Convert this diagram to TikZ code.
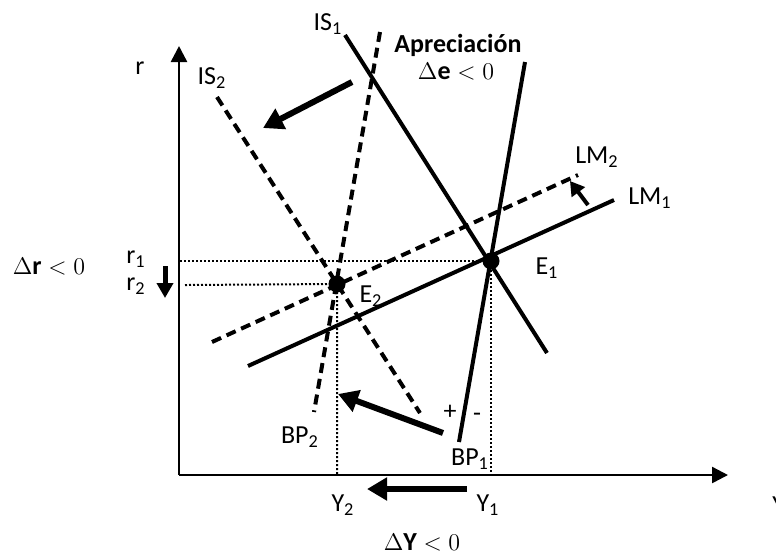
\documentclass[tikz,border=0pt]{standalone}
\usepackage{fontspec}
\setmainfont{Carlito}
\usetikzlibrary{arrows.meta}
\tikzset{%
	curve/.style = { line width=2pt },
	dcurve/.style = { curve, dash pattern=on 5pt off 3pt },
	guide/.style = { line width=1pt, dash pattern=on 1pt off 1pt },
	axis/.style = { line width=1.25pt, -{Triangle[length=8pt,width=8pt]} },
	movearrow/.style = { line width=3pt, -{Triangle[length=10pt,width=11pt]} },
	lbl/.style = { inner sep=0pt, font=\fontsize{13}{15}\selectfont },
	eq/.style = { circle, fill, inner sep=0pt, minimum size=8.5pt }
}
\newcommand{\sub}[1]{\textsubscript{#1}}

\begin{document}
\begin{tikzpicture}[x=0.5pt, y=-0.5pt]
	\useasboundingbox (0,0) rectangle (776,554);

	% ejes
	\coordinate (O) at (179,475);
	\coordinate (rtop) at (179,46);
	\coordinate (Yend) at (728,475);
	\draw[axis] (O) -- (rtop);
	\draw[axis] (O) -- (Yend);
	\node[lbl] (rlab) at (140,68) {r};
	\node[lbl, anchor=west] (Ylab) at (772,505) {Y};

	% equilibrios
	\node[eq] (E1) at (491,261) {};
	\node[eq] (E2) at (337,284) {};

	% lineas de guia
	\coordinate (r1a) at (180,261);
	\coordinate (r2a) at (185,285);
	\coordinate (Y1a) at (491,475);
	\coordinate (Y2a) at (337,475);
	\draw[guide] (r1a) -- (E1.center) -- (Y1a);
	\draw[guide] (r2a) -- (E2.center) -- (Y2a);

	% curvas iniciales
	\coordinate (IS1a) at (345,35);  \coordinate (IS1b) at (547,353);
	\coordinate (BP1a) at (525,62);  \coordinate (BP1b) at (459,442);
	\coordinate (LM1a) at (248,366); \coordinate (LM1b) at (614,200);
	\draw[curve] (IS1a) -- (IS1b);
	\draw[curve] (BP1a) -- (BP1b);
	\draw[curve] (LM1a) -- (LM1b);

	% curvas finales (discontinuas)
	\coordinate (IS2a) at (217,97);  \coordinate (IS2b) at (420,413);
	\coordinate (BP2a) at (380,32);  \coordinate (BP2b) at (314,412);
	\coordinate (LM2a) at (212,342); \coordinate (LM2b) at (578,175);
	\draw[dcurve] (IS2a) -- (IS2b);
	\draw[dcurve] (BP2a) -- (BP2b);
	\draw[dcurve] (LM2a) -- (LM2b);

	% desplazamientos
	\coordinate (s1a) at (352,82);  \coordinate (s1b) at (263,128);
	\coordinate (s2a) at (443,433); \coordinate (s2b) at (338,394);
	\coordinate (s3a) at (588,205); \coordinate (s3b) at (570,181);
	\coordinate (s4a) at (467,489); \coordinate (s4b) at (367,489);
	\coordinate (s5a) at (165,266); \coordinate (s5b) at (165,298);
	\draw[movearrow] (s1a) -- (s1b);
	\draw[movearrow] (s2a) -- (s2b);
	\draw[movearrow, line width=2pt, -{Triangle[length=7pt,width=8pt]}] (s3a) -- (s3b);
	\draw[movearrow] (s4a) -- (s4b);
	\draw[movearrow, line width=2.5pt, -{Triangle[length=7.5pt,width=8pt]}] (s5a) -- (s5b);

	% etiquetas
	\node[lbl] (IS1lab) at (328,24) {IS\sub{1}};
	\node[lbl] (IS2lab) at (212,78) {IS\sub{2}};
	\node[lbl] (BP1lab) at (470,459) {BP\sub{1}};
	\node[lbl] (BP2lab) at (300,437) {BP\sub{2}};
	\node[lbl] (LM1lab) at (650,198) {LM\sub{1}};
	\node[lbl] (LM2lab) at (597,157) {LM\sub{2}};
	\node[lbl] (E1lab) at (547,268) {E\sub{1}};
	\node[lbl] (E2lab) at (371,296) {E\sub{2}};
	\node[lbl] (r1lab) at (136,259) {r\sub{1}};
	\node[lbl] (r2lab) at (136,286) {r\sub{2}};
	\node[lbl] (Y1lab) at (488,505) {Y\sub{1}};
	\node[lbl] (Y2lab) at (343,505) {Y\sub{2}};
	\node[lbl] (plus) at (450,412) {+};
	\node[lbl] (minus) at (477,417) {-};
	\node[lbl, font=\fontsize{13}{15}\selectfont\bfseries] (apre) at (458,45) {Apreciación};
	\node[lbl] (de) at (456,72) {$\Delta\mathbf{e} < 0$};
	\node[lbl] (dr) at (49,267) {$\Delta\mathbf{r} < 0$};
	\node[lbl] (dY) at (422,542) {$\Delta\mathbf{Y} < 0$};
\end{tikzpicture}
\end{document}
